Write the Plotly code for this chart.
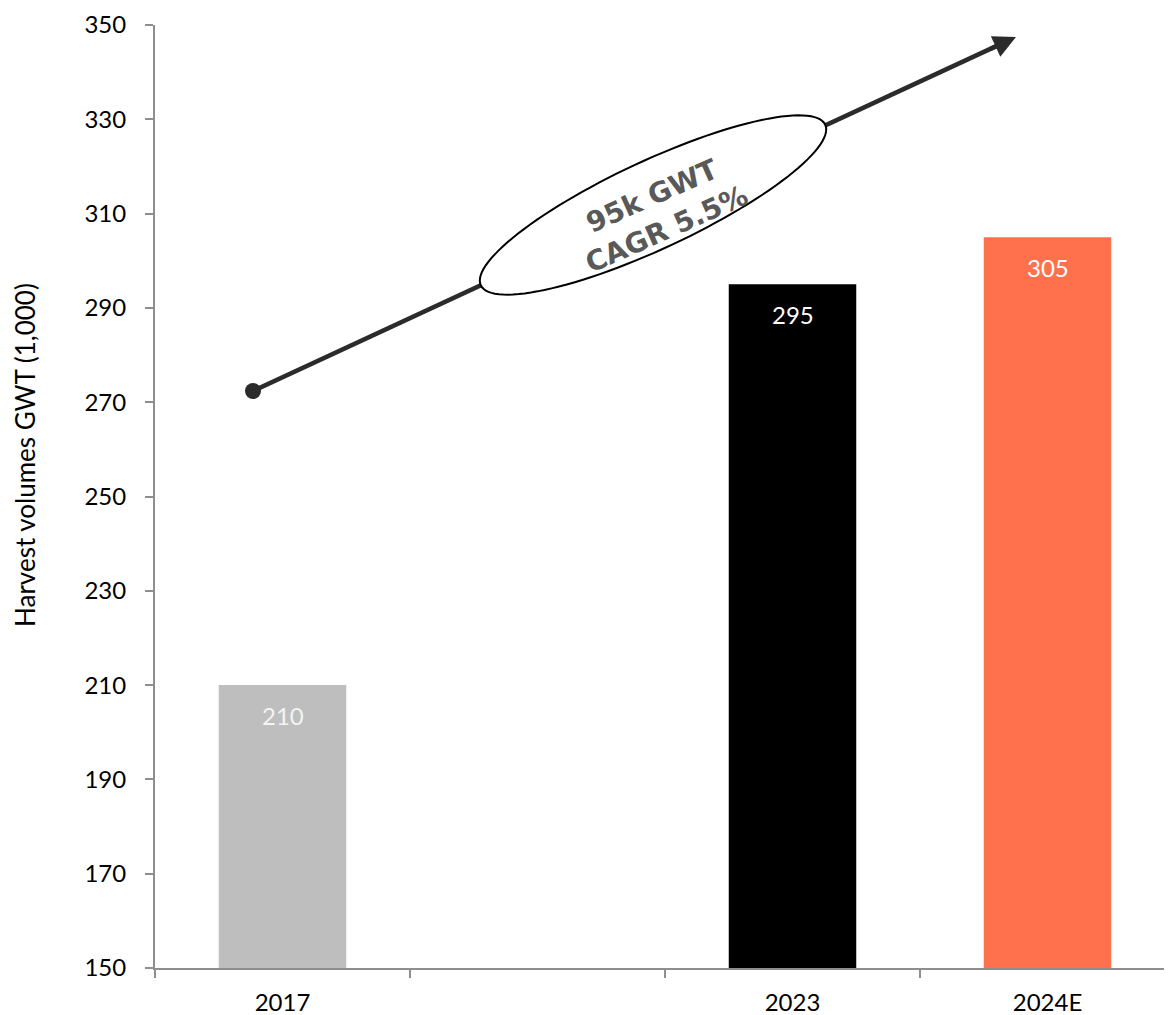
import math
import plotly.graph_objects as go

# ---- data ----
categories = ["2017", "2023", "2024E"]
slots = ["2017", " ", "2023", "2024E"]
values = [210, 295, 305]
value_labels = ["210", "295", "305"]
bar_colors = ["#BDBEBD", "#000000", "#FF704D"]
label_colors = ["#F4F4F4", "#FFFFFF", "#FFFFFF"]
y_ticks = [150, 170, 190, 210, 230, 250, 270, 290, 310, 330, 350]
y_title = "Harvest volumes GWT (1,000)"
cagr_text = "95k GWT<br>CAGR 5.5%"

# ---- geometry of the canvas (page has an 8px body margin) ----
OFF = 8
W, H = 1172 - OFF, 1015 - OFF
ML, MR, MT, MB = 155 - OFF, 0, 25 - OFF, 47
PW, PH = W - ML - MR, H - MT - MB
Y0, Y1 = 150, 350
NSLOT = len(slots)
SLOT_PX = 255.0                      # width of one category slot in the reference
X0 = -0.5
X1 = X0 + PW / SLOT_PX               # last slot runs slightly past the right edge


def px2x(px):
    """screen pixel -> x data"""
    return X0 + (px - OFF - ML) / SLOT_PX


def py2y(py):
    """screen pixel -> y data"""
    return Y1 - (py - OFF - MT) / PH * (Y1 - Y0)


FONT = "Lato, 'Open Sans', sans-serif"
AX_COL = "#8E8E8E"
ARROW_COL = "#2B2B2B"

fig = go.Figure()
fig.add_trace(go.Bar(
    x=categories, y=values, width=0.5,
    marker=dict(color=bar_colors, line=dict(width=0)),
    hoverinfo="skip", showlegend=False,
))

# value labels inside bars (x given as slot index so "2017" is not read as a number)
for c, v, t, col in zip(categories, values, value_labels, label_colors):
    fig.add_annotation(x=slots.index(c), y=v, text=t, showarrow=False, yshift=-30,
                       font=dict(family=FONT, size=24, color=col))

# arrow line (start dot -> near head)
sx, sy = 253, 391
ex, ey = 1016, 37
ang = math.atan2(sy - ey, ex - sx)
head = 14
lx, ly = ex - head * math.cos(ang), ey + head * math.sin(ang)
fig.add_shape(type="line", x0=px2x(sx), y0=py2y(sy), x1=px2x(lx), y1=py2y(ly),
              line=dict(color=ARROW_COL, width=4.5), layer="above")

# ellipse (white filled, covers arrow)
cx, cy, a, b = 653, 205, 190, 44
th = math.radians(25)
pts = []
for i in range(120):
    t = 2 * math.pi * i / 120
    px = cx + a * math.cos(t) * math.cos(th) + b * math.sin(t) * math.sin(th)
    py = cy - a * math.cos(t) * math.sin(th) + b * math.sin(t) * math.cos(th)
    pts.append((px2x(px), py2y(py)))
path = "M " + " L ".join(f"{x:.5f},{y:.4f}" for x, y in pts) + " Z"
fig.add_shape(type="path", path=path, fillcolor="white",
              line=dict(color="#000000", width=2), layer="above")

# start dot
fig.add_shape(type="circle", xsizemode="pixel", ysizemode="pixel",
              xanchor=px2x(sx), yanchor=py2y(sy), x0=-8, x1=8, y0=-8, y1=8,
              fillcolor=ARROW_COL, line=dict(width=0), layer="above")

# arrow head
fig.add_annotation(x=px2x(ex), y=py2y(ey), text="", showarrow=True,
                   ax=-30 * math.cos(ang), ay=30 * math.sin(ang),
                   arrowhead=2, arrowsize=1, arrowwidth=4.5, arrowcolor=ARROW_COL,
                   standoff=0)

# rotated CAGR text
fig.add_annotation(x=px2x(659), y=py2y(212), text=cagr_text, showarrow=False,
                   textangle=-24,
                   font=dict(family="'DejaVu Sans', sans-serif", size=28, color="#595959",
                             weight="bold"))

# y-axis title (placed as in the reference, not centred on the axis)
fig.add_annotation(xref="paper", yref="paper",
                   x=(25 - OFF - ML) / PW, y=(968 - 455) / PH,
                   text=y_title, showarrow=False, textangle=-90,
                   xanchor="center", yanchor="middle",
                   font=dict(family=FONT, size=26, color="#000000"))

fig.update_layout(
    width=W, height=H, autosize=False,
    margin=dict(l=ML, r=MR, t=MT, b=MB),
    plot_bgcolor="white", paper_bgcolor="white",
    font=dict(family=FONT, size=24, color="#000000"),
    bargap=0.5,
)
fig.update_xaxes(
    type="category", categoryorder="array", categoryarray=slots,
    range=[X0, X1], tickson="boundaries",
    ticks="outside", ticklen=8, tickwidth=2, tickcolor=AX_COL,
    showline=True, linecolor=AX_COL, linewidth=2,
    showgrid=False, zeroline=False, ticklabelstandoff=12, automargin=False,
    tickfont=dict(family=FONT, size=24, color="#000000"),
)
fig.update_yaxes(
    range=[Y0, Y1], tickvals=y_ticks,
    ticks="outside", ticklen=8, tickwidth=2, tickcolor=AX_COL,
    showline=True, linecolor=AX_COL, linewidth=2,
    showgrid=False, zeroline=False, ticklabelstandoff=14, automargin=False,
    tickfont=dict(family=FONT, size=24, color="#000000"),
)

fig.write_html("out.html")
